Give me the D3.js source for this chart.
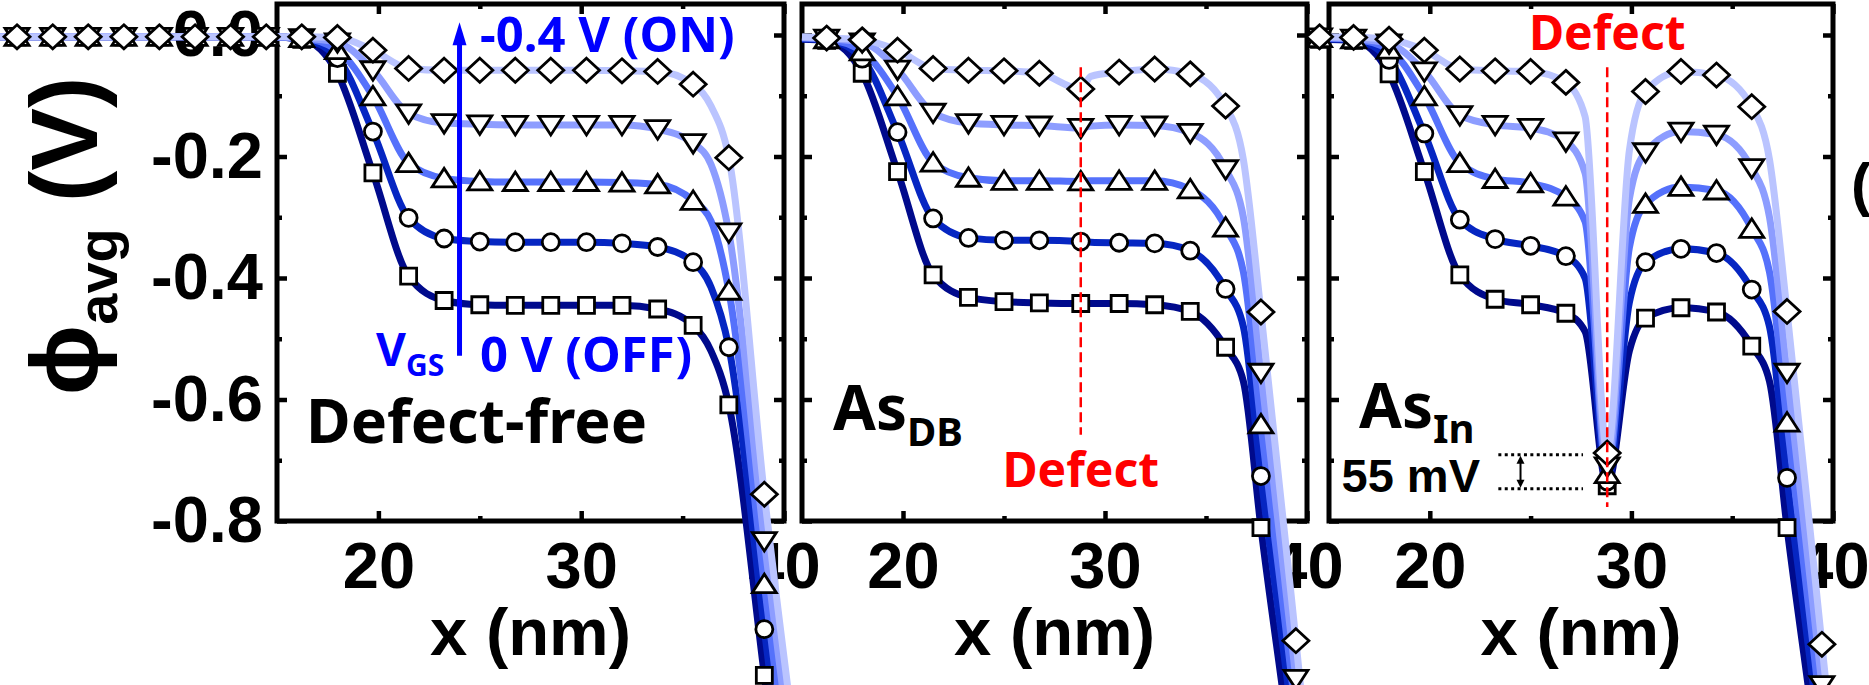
<!DOCTYPE html>
<html>
<head>
<meta charset="utf-8">
<script src="https://cdn.jsdelivr.net/npm/d3@7"></script>
<style>
  body { margin: 0; background: #fff; }
  svg { display: block; }
</style>
</head>
<body>
<div id="chart"></div>
<script>
// ---- data (x in nm, phi_avg in V) ----
// series order: 0 V (OFF) square, circle, up-triangle, down-triangle, -0.4 V (ON) diamond
var seriesNames = ['0 V', '-0.1 V', '-0.2 V', '-0.3 V', '-0.4 V'];
var seriesShapes = ['square', 'circle', 'up', 'down', 'diamond'];
var seriesColors = ['#000a8c', '#0626c2', '#5571fb', '#8d9dff', '#bac4ff'];

var xTicksMajor = [20, 30, 40];
var xTicksMinor = [25, 35];
var yTicksMajor = [0, -0.2, -0.4, -0.6, -0.8];
var yTicksMinor = [-0.1, -0.3, -0.5, -0.7];

// panel 1: defect-free
var xFree = [0.43, 2.18, 3.94, 5.69, 7.45, 9.2, 10.96, 12.71, 14.47, 16.22, 17.98, 19.73, 21.49, 23.24, 25.0, 26.75, 28.5, 30.26, 32.01, 33.77, 35.52, 36.4, 37.28, 39.03, 40.8];
var markFree = [1, 1, 1, 1, 1, 1, 1, 1, 1, 1, 1, 1, 1, 1, 1, 1, 1, 1, 1, 1, 1, 0, 1, 1, 0];
var freeSq   = [-0.003, -0.003, -0.003, -0.003, -0.003, -0.003, -0.003, -0.003, -0.003, -0.007, -0.063, -0.227, -0.397, -0.437, -0.444, -0.445, -0.445, -0.445, -0.445, -0.451, -0.478, -0.52, -0.609, -1.054, -1.532];
var freeCirc = [-0.003, -0.003, -0.003, -0.003, -0.003, -0.003, -0.003, -0.003, -0.003, -0.006, -0.038, -0.159, -0.301, -0.335, -0.340, -0.341, -0.341, -0.341, -0.343, -0.349, -0.374, -0.415, -0.514, -0.978, -1.456];
var freeUp   = [-0.003, -0.003, -0.003, -0.003, -0.003, -0.003, -0.003, -0.003, -0.003, -0.005, -0.025, -0.101, -0.211, -0.236, -0.241, -0.242, -0.242, -0.242, -0.243, -0.246, -0.273, -0.306, -0.421, -0.904, -1.382];
var freeDown = [-0.003, -0.003, -0.003, -0.003, -0.003, -0.003, -0.003, -0.003, -0.003, -0.005, -0.012, -0.058, -0.129, -0.145, -0.147, -0.148, -0.148, -0.148, -0.148, -0.155, -0.178, -0.213, -0.325, -0.833, -1.311];
var freeDia  = [-0.003, -0.003, -0.003, -0.003, -0.003, -0.003, -0.003, -0.003, -0.003, -0.003, -0.004, -0.025, -0.055, -0.058, -0.058, -0.058, -0.058, -0.058, -0.059, -0.060, -0.081, -0.117, -0.202, -0.756, -1.234];

// panel 2: As_DB
var xDB = [15.0, 16.22, 17.98, 19.73, 21.49, 23.24, 25.0, 26.75, 28.8, 29.3, 30.7, 32.46, 34.22, 35.97, 36.85, 37.72, 39.45, 41.0];
var markDB = [0, 1, 1, 1, 1, 1, 1, 1, 1, 0, 1, 1, 1, 1, 0, 1, 1, 0];
var dbSq   = [-0.007, -0.009, -0.063, -0.225, -0.395, -0.432, -0.439, -0.441, -0.442, -0.442, -0.442, -0.444, -0.455, -0.514, -0.57, -0.811, -1.25, -1.74];
var dbCirc = [-0.006, -0.008, -0.039, -0.160, -0.302, -0.334, -0.338, -0.338, -0.340, -0.341, -0.342, -0.343, -0.355, -0.418, -0.48, -0.726, -1.18, -1.68];
var dbUp   = [-0.005, -0.007, -0.027, -0.101, -0.210, -0.235, -0.240, -0.240, -0.241, -0.240, -0.240, -0.240, -0.254, -0.317, -0.39, -0.641, -1.12, -1.62];
var dbDown = [-0.004, -0.006, -0.012, -0.057, -0.128, -0.145, -0.148, -0.149, -0.153, -0.150, -0.148, -0.149, -0.161, -0.221, -0.30, -0.556, -1.06, -1.56];
var dbDia  = [-0.003, -0.005, -0.008, -0.025, -0.055, -0.058, -0.059, -0.063, -0.089, -0.068, -0.061, -0.056, -0.064, -0.117, -0.205, -0.456, -0.997, -1.50];

// panel 3: As_In
var xIn = [14.53, 16.22, 17.98, 19.73, 21.49, 23.24, 25.0, 26.75, 27.7, 28.8, 29.9, 30.7, 32.46, 34.22, 35.97, 36.85, 37.72, 39.45, 41.0];
var markIn = [1, 1, 1, 1, 1, 1, 1, 1, 0, 1, 0, 1, 1, 1, 1, 0, 1, 1, 0];
var inSq   = [-0.007, -0.009, -0.064, -0.225, -0.395, -0.435, -0.444, -0.458, -0.488, -0.742, -0.52, -0.466, -0.449, -0.456, -0.512, -0.57, -0.811, -1.25, -1.74];
var inCirc = [-0.006, -0.008, -0.041, -0.162, -0.304, -0.336, -0.347, -0.364, -0.40, -0.735, -0.44, -0.374, -0.352, -0.359, -0.419, -0.48, -0.729, -1.19, -1.68];
var inUp   = [-0.005, -0.007, -0.024, -0.101, -0.211, -0.237, -0.244, -0.266, -0.307, -0.723, -0.35, -0.278, -0.250, -0.256, -0.319, -0.39, -0.638, -1.13, -1.62];
var inDown = [-0.004, -0.006, -0.014, -0.060, -0.132, -0.148, -0.153, -0.175, -0.227, -0.71, -0.27, -0.193, -0.159, -0.164, -0.219, -0.30, -0.556, -1.07, -1.56];
var inDia  = [-0.003, -0.004, -0.007, -0.025, -0.056, -0.059, -0.060, -0.078, -0.134, -0.688, -0.19, -0.093, -0.060, -0.066, -0.118, -0.205, -0.455, -1.003, -1.50];

var defectX = 28.8;
var gap55 = [-0.691, -0.747]; // 55 mV between ON and OFF at the As_In site

// ---- layout ----
var W = 1869, H = 685;
var frameTop = 4, frameBottom = 521;
var tickFont = '"Liberation Sans", Arial, sans-serif';
var annFont = '"Noto Sans", "Open Sans", sans-serif';

var svg = d3.select('#chart').append('svg')
  .attr('width', W).attr('height', H)
  .style('background', '#fff');

var y = d3.scaleLinear().domain([-0.8, 0]).range([frameBottom, 35]);

var panels = [
  { left: 277, right: 784, xs: xFree, mark: markFree, ys: [freeSq, freeCirc, freeUp, freeDown, freeDia], yLabels: true },
  { left: 802, right: 1307, xs: xDB, mark: markDB, ys: [dbSq, dbCirc, dbUp, dbDown, dbDia] },
  { left: 1329, right: 1833, xs: xIn, mark: markIn, ys: [inSq, inCirc, inUp, inDown, inDia] }
];

panels.forEach(function(p) {
  p.x = d3.scaleLinear().domain([15, 40]).range([p.left, p.right]);
});

function yFmt(d) { return d === 0 ? '0.0' : '-' + Math.abs(d).toFixed(1); }

function styleAxis(g, size) {
  g.select('.domain').remove();
  g.selectAll('.tick line').attr('stroke', '#000').attr('stroke-width', 4.5);
  g.selectAll('.tick text')
    .attr('font-family', tickFont).attr('font-weight', 'bold')
    .attr('font-size', size).attr('fill', '#000');
}

// ---- axes and frames ----
var axesLayer = svg.append('g');
panels.forEach(function(p) {
  var g = axesLayer.append('g');
  var x = p.x;

  g.append('g').attr('transform', 'translate(0,' + frameBottom + ')')
    .call(d3.axisBottom(x).tickValues(xTicksMajor).tickSize(-10).tickPadding(21).tickFormat(d3.format('d')))
    .call(styleAxis, 65);
  g.append('g').attr('transform', 'translate(0,' + frameBottom + ')')
    .call(d3.axisBottom(x).tickValues(xTicksMinor).tickSize(-5).tickFormat(''))
    .call(styleAxis, 65);
  g.append('g').attr('transform', 'translate(0,' + frameTop + ')')
    .call(d3.axisTop(x).tickValues(xTicksMajor).tickSize(-10).tickFormat(''))
    .call(styleAxis, 65);
  g.append('g').attr('transform', 'translate(0,' + frameTop + ')')
    .call(d3.axisTop(x).tickValues(xTicksMinor).tickSize(-5).tickFormat(''))
    .call(styleAxis, 65);

  g.append('g').attr('transform', 'translate(' + p.left + ',0)')
    .call(d3.axisLeft(y).tickValues(yTicksMajor).tickSize(-10).tickPadding(14)
      .tickFormat(p.yLabels ? yFmt : ''))
    .call(styleAxis, 65);
  g.append('g').attr('transform', 'translate(' + p.left + ',0)')
    .call(d3.axisLeft(y).tickValues(yTicksMinor).tickSize(-5).tickFormat(''))
    .call(styleAxis, 65);
  g.append('g').attr('transform', 'translate(' + p.right + ',0)')
    .call(d3.axisRight(y).tickValues(yTicksMajor).tickSize(-10).tickFormat(''))
    .call(styleAxis, 65);
  g.append('g').attr('transform', 'translate(' + p.right + ',0)')
    .call(d3.axisRight(y).tickValues(yTicksMinor).tickSize(-5).tickFormat(''))
    .call(styleAxis, 65);

  g.append('rect')
    .attr('x', p.left).attr('y', frameTop)
    .attr('width', p.right - p.left).attr('height', frameBottom - frameTop)
    .attr('fill', 'none').attr('stroke', '#000').attr('stroke-width', 5);

  g.append('text')
    .attr('x', (p.left + p.right) / 2).attr('y', 655)
    .attr('text-anchor', 'middle')
    .attr('font-family', tickFont).attr('font-weight', 'bold').attr('font-size', 67)
    .text('x (nm)');
});

// y label
var yl = axesLayer.append('text')
  .attr('transform', 'translate(97,236) rotate(-90)')
  .attr('text-anchor', 'middle')
  .attr('font-family', tickFont).attr('font-weight', 'bold').attr('font-size', 94);
yl.append('tspan').text('\u03d5');
yl.append('tspan').attr('font-size', 56).attr('dy', 20).text('avg');
yl.append('tspan').attr('dy', -20).text(' (V)');

// cut-off glyph of the next figure at the right edge
axesLayer.append('text')
  .attr('x', 1851).attr('y', 205)
  .attr('font-family', tickFont).attr('font-weight', 'bold').attr('font-size', 60)
  .text('(');

// ---- curves ----
function markerPath(shape) {
  if (shape === 'diamond') return 'M0,-12L13,0L0,12L-13,0Z';
  if (shape === 'down') return 'M-12,-8.5L12,-8.5L0,10Z';
  if (shape === 'up') return 'M-12,8.5L12,8.5L0,-10Z';
  if (shape === 'square') return 'M-8,-8H8V8H-8Z';
  return 'M8.5,0A8.5,8.5 0 1,1 -8.5,0A8.5,8.5 0 1,1 8.5,0Z';
}

var dataLayer = svg.append('g');
panels.forEach(function(p) {
  var g = dataLayer.append('g');
  var line = d3.line()
    .x(function(d) { return p.x(d[0]); })
    .y(function(d) { return y(d[1]); })
    .curve(d3.curveMonotoneX);

  p.ys.forEach(function(vals, s) {
    var pts = p.xs.map(function(xv, i) { return [xv, vals[i], p.mark[i]]; });
    g.append('path')
      .attr('d', line(pts))
      .attr('fill', 'none')
      .attr('stroke', seriesColors[s])
      .attr('stroke-width', 7)
      .attr('stroke-linejoin', 'round');
  });

  p.ys.forEach(function(vals, s) {
    var pts = p.xs.map(function(xv, i) { return [xv, vals[i], p.mark[i]]; })
      .filter(function(d) { return d[2]; });
    g.selectAll('path.m' + s).data(pts).enter().append('path')
      .attr('class', 'm' + s)
      .attr('transform', function(d) { return 'translate(' + p.x(d[0]) + ',' + y(d[1]) + ')'; })
      .attr('d', markerPath(seriesShapes[s]))
      .attr('fill', '#fff')
      .attr('stroke', '#000')
      .attr('stroke-width', 2.8);
  });
});

// ---- annotations ----
var ann = svg.append('g');
var p1 = panels[0], p2 = panels[1], p3 = panels[2];

// V_GS arrow in panel 1
var ax = p1.x(24.0);
ann.append('line')
  .attr('x1', ax).attr('x2', ax).attr('y1', y(-0.528)).attr('y2', y(-0.005))
  .attr('stroke', '#0000ff').attr('stroke-width', 5);
ann.append('path')
  .attr('d', 'M' + ax + ',' + y(0.021) + 'l7,23h-14z')
  .attr('fill', '#0000ff');

function annText(x, yy, size, color, str, anchor) {
  return ann.append('text')
    .attr('x', x).attr('y', yy)
    .attr('text-anchor', anchor || 'start')
    .attr('font-family', annFont).attr('font-weight', 'bold')
    .attr('font-size', size).attr('fill', color)
    .text(str);
}
annText(480, 52, 49, '#0000ff', '-0.4 V (ON)');
annText(480, 372, 49, '#0000ff', '0 V (OFF)');
var vgs = annText(376, 366, 46, '#0000ff', 'V');
vgs.append('tspan').attr('font-size', 30).attr('dy', 10).text('GS');

annText(306, 443, 61, '#000', 'Defect-free');

var asdb = annText(833, 430, 62, '#000', 'As');
asdb.append('tspan').attr('font-size', 40).attr('dy', 16).text('DB');

var asin = annText(1359, 428, 62, '#000', 'As');
asin.append('tspan').attr('font-size', 40).attr('dy', 15).text('In');

// defect positions
ann.append('line')
  .attr('x1', p2.x(defectX)).attr('x2', p2.x(defectX))
  .attr('y1', y(-0.053)).attr('y2', y(-0.658))
  .attr('stroke', '#ff0000').attr('stroke-width', 2.5).attr('stroke-dasharray', '10,5');
annText(p2.x(defectX), 487, 48, '#ff0000', 'Defect', 'middle');

ann.append('line')
  .attr('x1', p3.x(defectX)).attr('x2', p3.x(defectX))
  .attr('y1', y(-0.053)).attr('y2', y(-0.777))
  .attr('stroke', '#ff0000').attr('stroke-width', 2.5).attr('stroke-dasharray', '10,5');
annText(p3.x(defectX), 50, 48, '#ff0000', 'Defect', 'middle');

// 55 mV marker
gap55.forEach(function(v) {
  ann.append('line')
    .attr('x1', p3.x(23.4)).attr('x2', p3.x(27.6))
    .attr('y1', y(v)).attr('y2', y(v))
    .attr('stroke', '#000').attr('stroke-width', 3).attr('stroke-dasharray', '3,3.4');
});
var arx = p3.x(24.5);
ann.append('line')
  .attr('x1', arx).attr('x2', arx).attr('y1', y(gap55[0]) + 6).attr('y2', y(gap55[1]) - 6)
  .attr('stroke', '#000').attr('stroke-width', 2);
ann.append('path').attr('d', 'M' + arx + ',' + (y(gap55[0]) + 1) + 'l4,8h-8z').attr('fill', '#000');
ann.append('path').attr('d', 'M' + arx + ',' + (y(gap55[1]) - 1) + 'l4,-8h-8z').attr('fill', '#000');
ann.append('text')
  .attr('x', 1480).attr('y', 492).attr('text-anchor', 'end')
  .attr('font-family', tickFont).attr('font-weight', 'bold').attr('font-size', 47)
  .text('55 mV');
</script>
</body>
</html>
